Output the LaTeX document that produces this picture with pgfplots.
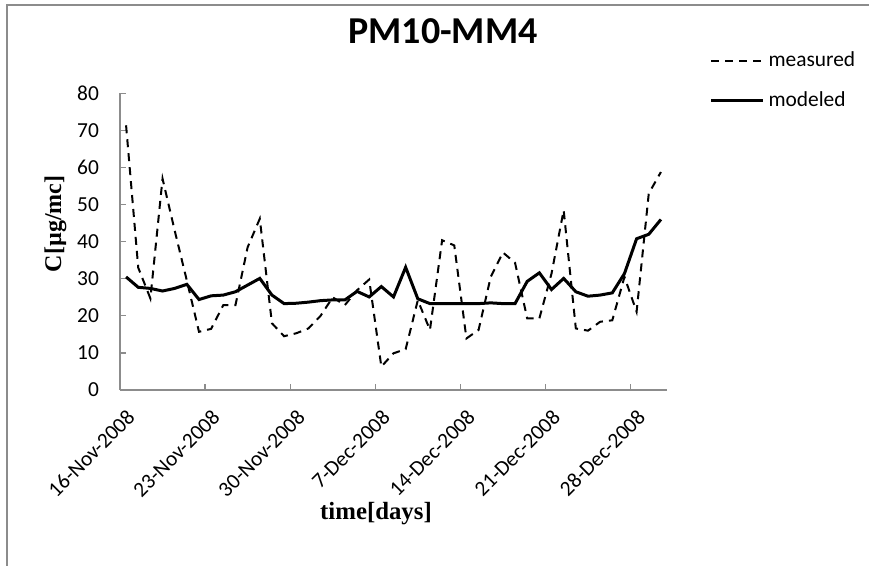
\documentclass[border=0pt]{standalone}
\usepackage{fontspec}
\setmainfont{Carlito}
\newfontfamily\tnr{Liberation Serif}
\usepackage{pgfplots}
\pgfplotsset{compat=1.18}
\begin{document}
\begin{tikzpicture}
\useasboundingbox (-60pt,-88pt) rectangle (374.5pt,195pt);
\draw[line width=1pt, color=gray!90] (-56.5pt,-90pt) -- (-56.5pt,192.5pt) -- (376pt,192.5pt);
\begin{axis}[
  at={(0,0)}, anchor=south west,
  scale only axis, width=273.5pt, height=148.3pt,
  xmin=0, xmax=45, ymin=0, ymax=80,
  axis x line=bottom, axis y line=left,
  axis line style={-, draw=gray!90, line width=0.7pt},
  tick align=inside, major tick length=3pt,
  tick style={gray!90, line width=0.6pt},
  xtick={0,7,14,21,28,35,42},
  xticklabels={16-Nov-2008,23-Nov-2008,30-Nov-2008,7-Dec-2008,14-Dec-2008,21-Dec-2008,28-Dec-2008},
  ytick={0,10,...,80},
  /pgf/number format/assume math mode=true,
  tick label style={font=\fontsize{10.7}{12}\selectfont},
  xticklabel style={rotate=45, anchor=north east, xshift=-1pt, yshift=-5pt},
  yticklabel style={xshift=-7pt},
  title={PM10-MM4},
  title style={at={(axis description cs:0.5905,1.129)}, anchor=base, font=\bfseries\fontsize{19}{22}\selectfont},
  ylabel={C[µg/mc]},
  ylabel style={at={(axis description cs:-0.118,0.56)}, anchor=center, font=\tnr\bfseries\fontsize{12}{14}\selectfont},
  xlabel={time[days]},
  xlabel style={at={(axis description cs:0.468,-0.438)}, anchor=base, font=\tnr\bfseries\fontsize{12.4}{14}\selectfont},
  legend style={at={(axis description cs:1.077,1.155)}, anchor=north west, draw=none, fill=none,
    font=\fontsize{10.7}{12}\selectfont, row sep=7pt, inner sep=0pt},
  legend cell align=left,
  legend image code/.code={\draw[#1] (0pt,0pt) -- (26pt,0pt);},
  clip=false,
]
\addplot[black, line width=1pt, dash pattern=on 4pt off 3pt] coordinates {
(0.5,71.4) (1.5,33) (2.5,24.7) (3.5,57) (4.5,43) (5.5,29.5) (6.5,15.7) (7.5,16.5)
(8.5,22.9) (9.5,22.9) (10.5,38.5) (11.5,46.2) (12.5,18) (13.5,14.5) (14.5,15.3)
(15.5,16.6) (16.5,20) (17.5,25) (18.5,22.9) (19.5,26.9) (20.5,29.8) (21.5,6.3)
(22.5,9.9) (23.5,11) (24.5,24.2) (25.5,16.2) (26.5,40.4) (27.5,39) (28.5,13.9)
(29.5,16.2) (30.5,30.5) (31.5,37.1) (32.5,34.3) (33.5,19.3) (34.5,19.3) (35.5,31.4)
(36.5,48.5) (37.5,16.6) (38.5,16) (39.5,18.4) (40.5,18.8) (41.5,30.5) (42.5,21.1)
(43.5,53) (44.5,58.8)
};
\addlegendentry{measured}
\addplot[black, line width=1.5pt] coordinates {
(0.5,30.5) (1.5,27.7) (2.5,27.4) (3.5,26.7) (4.5,27.4) (5.5,28.5) (6.5,24.4) (7.5,25.4)
(8.5,25.6) (9.5,26.5) (10.5,28.3) (11.5,30.1) (12.5,25.6) (13.5,23.3) (14.5,23.4)
(15.5,23.7) (16.5,24.1) (17.5,24.3) (18.5,24.3) (19.5,26.6) (20.5,25.1) (21.5,27.9)
(22.5,25.1) (23.5,33.1) (24.5,24.6) (25.5,23.3) (26.5,23.3) (27.5,23.3) (28.5,23.3)
(29.5,23.3) (30.5,23.5) (31.5,23.3) (32.5,23.3) (33.5,29.3) (34.5,31.6) (35.5,27.1)
(36.5,30.1) (37.5,26.5) (38.5,25.3) (39.5,25.6) (40.5,26.2) (41.5,31.4) (42.5,40.8)
(43.5,42) (44.5,46)
};
\addlegendentry{modeled}
\end{axis}
\end{tikzpicture}
\end{document}
